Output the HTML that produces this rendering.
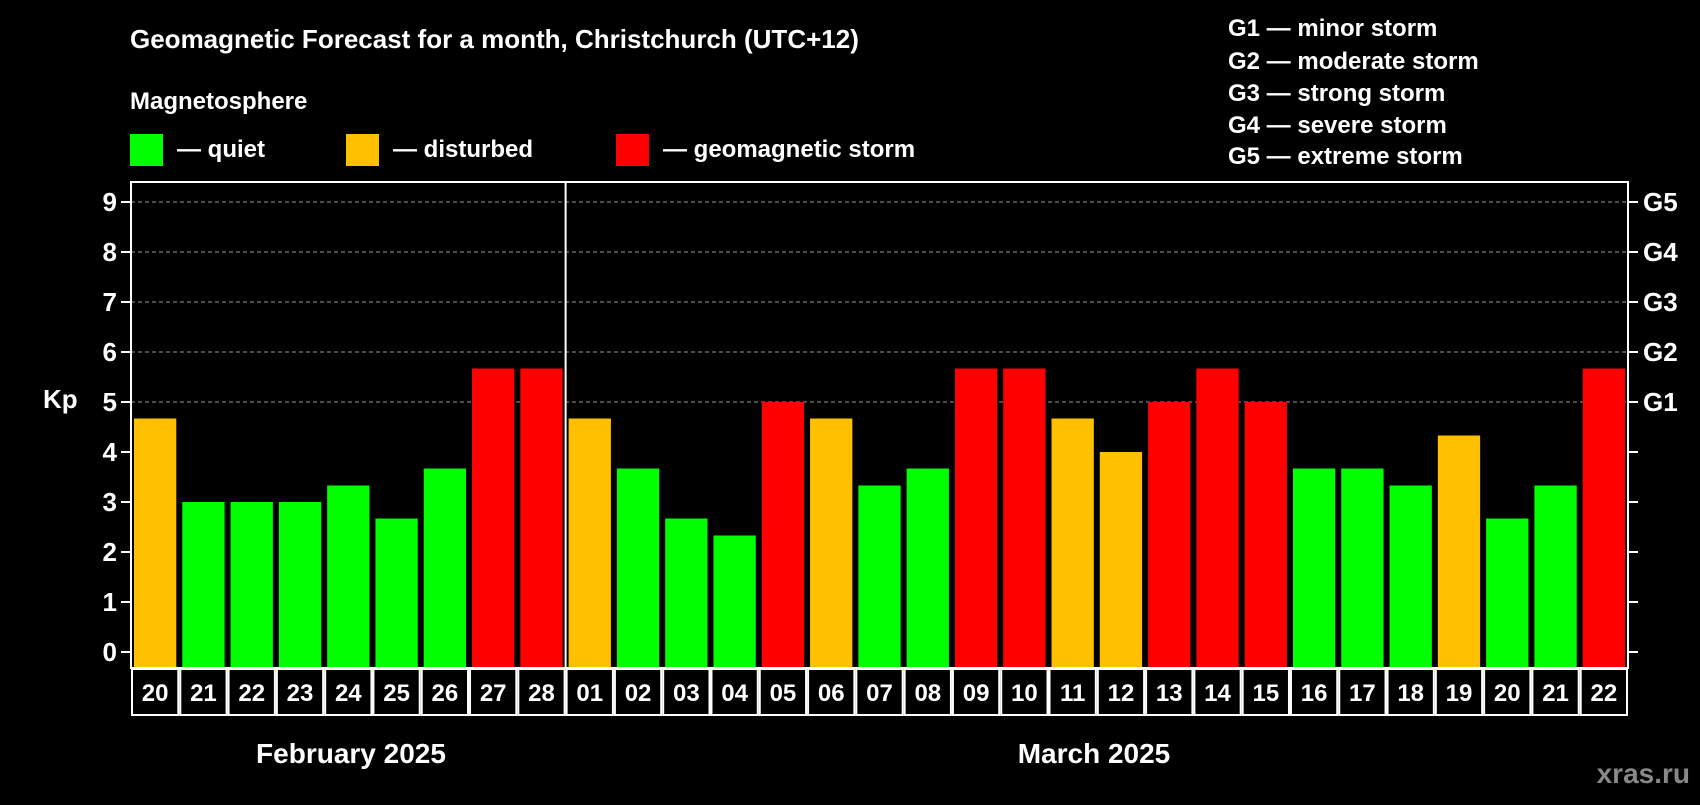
<!DOCTYPE html>
<html><head><meta charset="utf-8"><style>
body{margin:0;background:#000;width:1700px;height:800px;overflow:hidden}
svg text{font-family:"Liberation Sans",Arial,sans-serif;font-weight:bold;fill:#fff}
</style></head><body>
<svg id="c" width="1700" height="800">
<text x="130" y="48" font-size="26">Geomagnetic Forecast for a month, Christchurch (UTC+12)</text>
<text x="130" y="109" font-size="24">Magnetosphere</text>
<rect x="130" y="134" width="33" height="32" fill="#00ff00"/>
<text x="177" y="157" font-size="24">— quiet</text>
<rect x="346" y="134" width="33" height="32" fill="#ffc000"/>
<text x="393" y="157" font-size="24">— disturbed</text>
<rect x="616" y="134" width="33" height="32" fill="#ff0000"/>
<text x="663" y="157" font-size="24">— geomagnetic storm</text>
<g font-size="24">
<text x="1228" y="36">G1 — minor storm</text>
<text x="1228" y="69">G2 — moderate storm</text>
<text x="1228" y="101">G3 — strong storm</text>
<text x="1228" y="133">G4 — severe storm</text>
<text x="1228" y="164">G5 — extreme storm</text>
</g>
<text x="43" y="408" font-size="26">Kp</text>
<g id="grid"></g><g id="bars"></g><g id="axes"></g>
<text x="351" y="763" font-size="28" text-anchor="middle">February 2025</text>
<text x="1094" y="763" font-size="28" text-anchor="middle">March 2025</text>
<text x="1690" y="783" font-size="28" text-anchor="end" style="fill:#888">xras.ru</text>
</svg>
<script>
const days=["20","21","22","23","24","25","26","27","28","01","02","03","04","05","06","07","08","09","10","11","12","13","14","15","16","17","18","19","20","21","22"];
const kp=[4.67,3,3,3,3.33,2.67,3.67,5.67,5.67,4.67,3.67,2.67,2.33,5,4.67,3.33,3.67,5.67,5.67,4.67,4,5,5.67,5,3.67,3.67,3.33,4.33,2.67,3.33,5.67];
const yTicks=[0,1,2,3,4,5,6,7,8,9];
const gLabels=["G1","G2","G3","G4","G5"];
const monthBreak=9;
const NS="http://www.w3.org/2000/svg";
const L=131,R=1628,T=182,B=668,y0=652,unit=50;
const slot=(R-L)/days.length;
const y=v=>y0-v*unit;
const x=i=>L+i*slot;
function mk(t,a,p){const e=document.createElementNS(NS,t);for(const k in a)e.setAttribute(k,a[k]);p.appendChild(e);return e;}
const grid=document.getElementById('grid'),bars=document.getElementById('bars'),axes=document.getElementById('axes');
yTicks.forEach(v=>{
 if(v>=5){const g=mk('line',{x1:L,x2:R,y1:y(v),y2:y(v),stroke:'#999','stroke-dasharray':'4,3','stroke-width':1},grid);
 
 }
 mk('line',{x1:L-10,x2:L,y1:y(v),y2:y(v),stroke:'#fff','stroke-width':2},axes);
 mk('line',{x1:R,x2:R+10,y1:y(v),y2:y(v),stroke:'#fff','stroke-width':2},axes);
 const t=mk('text',{x:L-14,y:y(v)+9,'font-size':26,'text-anchor':'end'},axes);t.textContent=v;
 
 
});
gLabels.forEach((g,i)=>{const t=mk('text',{x:R+15,y:y(5+i)+9,'font-size':26},axes);t.textContent=g;
 
 });
kp.forEach((v,i)=>{
 const c=v>=5?'#ff0000':v>=4?'#ffc000':'#00ff00';
 const r=mk('rect',{x:x(i)+3,y:y(v),width:slot-6,height:B-y(v),fill:c},bars);
 
 
 const b=mk('rect',{x:x(i)+1,y:B+1,width:slot-2,height:46,fill:'none',stroke:'#fff','stroke-width':2},axes);
 
 
 const t=mk('text',{x:x(i)+slot/2,y:B+33,'font-size':24,'text-anchor':'middle'},axes);t.textContent=days[i];
 
 
});
const f=mk('rect',{x:L,y:T,width:R-L,height:B-T,fill:'none',stroke:'#fff','stroke-width':2},axes);


const d=mk('line',{x1:x(monthBreak),x2:x(monthBreak),y1:T,y2:B,stroke:'#fff','stroke-width':2},axes);


</script>
</body></html>
